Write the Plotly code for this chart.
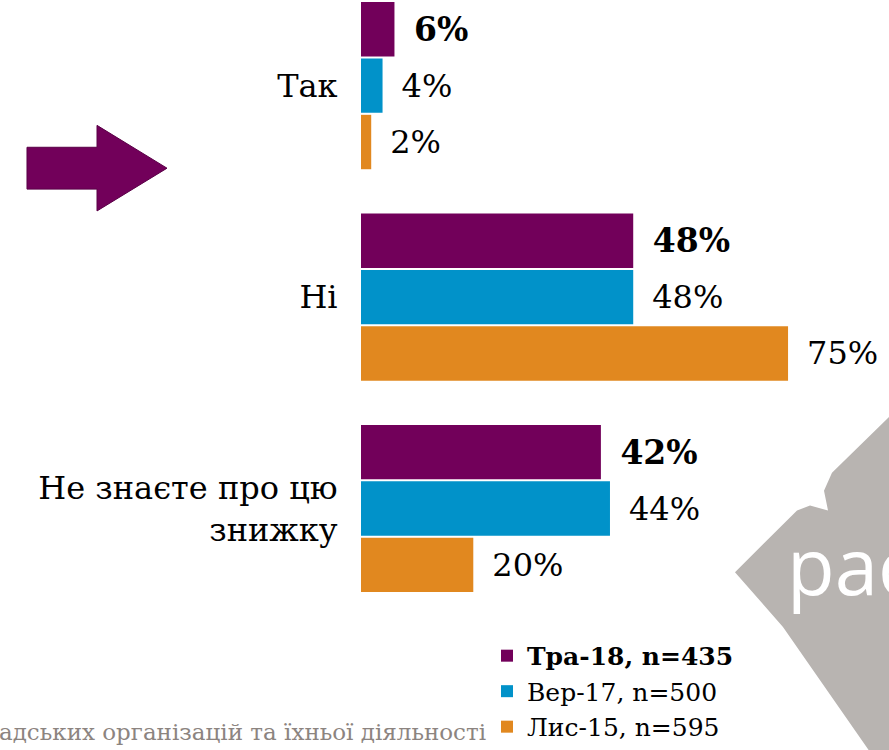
import plotly.graph_objects as go

# === data ===
categories = ["Так", "Ні", "Не знаєте про цю<br>знижку"]
series_names = ["<b>Тра-18, n=435</b>", "Вер-17, n=500", "Лис-15, n=595"]
vals_may18 = [5.9, 48.0, 42.3]
vals_sep17 = [3.8, 48.0, 43.9]
vals_nov15 = [1.8, 75.3, 19.8]
colors = ["#72005A", "#0192C9", "#E1881F"]
footer_text = "адських організацій та їхньої діяльності"
logo_text = "pac"

W, H = 889, 750
ML, MB = 361, 130
PW, PH = W - ML, H - MB
FONT = "DejaVu Serif"


def xp(px):
    return (px - ML) / PW


def yp(py):
    return 1 - py / PH


def path(points):
    s = "M" + " L".join(f"{xp(a):.4f},{yp(b):.4f}" for a, b in points)
    return s + " Z"


fig = go.Figure()

for i, (name, vals) in enumerate(zip(series_names, [vals_may18, vals_sep17, vals_nov15])):
    bold = i == 0
    fig.add_trace(go.Bar(
        y=categories,
        x=vals,
        orientation="h",
        name=name,
        legendgroup=f"g{i}",
        marker=dict(color=colors[i], line=dict(width=0)),
        texttemplate=("\u2002<b>%{x:.0f}%</b>" if bold else "\u2002%{x:.0f}%"),
        textposition="outside",
        textfont=dict(family=FONT, size=33 if bold else 32, color="black"),
        constraintext="none",
        cliponaxis=False,
        hoverinfo="skip",
    ))

# arrow on the left
arrow = [(27, 148), (97, 148), (97, 126), (167, 169), (97, 212), (97, 190), (27, 190)]
# grey logo watermark
logo = [(735, 575), (797, 513), (810, 508), (828, 513), (824, 493), (832, 475),
        (888, 420), (900, 410), (900, 760), (873, 760), (783, 630)]

fig.update_layout(
    width=W, height=H,
    margin=dict(l=ML, r=0, t=0, b=MB),
    paper_bgcolor="white", plot_bgcolor="white",
    barmode="group", bargap=0.2, bargroupgap=0.035,
    showlegend=True,
    legend=dict(
        x=xp(487), y=yp(636), xanchor="left", yanchor="top",
        font=dict(family=FONT, size=25, color="black"),
        bgcolor="rgba(0,0,0,0)", traceorder="normal", tracegroupgap=7,
    ),
    xaxis=dict(range=[0, 93.1], visible=False),
    yaxis=dict(
        categoryorder="array", categoryarray=categories,
        range=[2.513, -0.405],
        showgrid=False, zeroline=False, showline=False,
        ticks="outside", ticklen=16, tickcolor="rgba(0,0,0,0)",
        tickfont=dict(family=FONT, size=32, color="black"),
    ),
    shapes=[
        dict(type="path", path=path(logo), xref="paper", yref="paper",
             fillcolor="#B8B4B1", line=dict(width=0), layer="below"),
        dict(type="path", path=path(arrow), xref="paper", yref="paper",
             fillcolor="#72005A", line=dict(color="#5A0047", width=1)),
    ],
    annotations=[
        dict(text=logo_text, x=xp(785), y=yp(568), xref="paper", yref="paper",
             xanchor="left", yanchor="middle", showarrow=False,
             font=dict(family="Open Sans", size=78, color="white")),
        dict(text=footer_text, x=xp(488), y=yp(736), xref="paper", yref="paper",
             xanchor="right", yanchor="middle", showarrow=False,
             font=dict(family=FONT, size=23, color="#8C8480")),
    ],
)

fig.write_html(
    "out.html",
    config={"displayModeBar": False},
    post_script="document.body.style.margin='0';document.body.style.overflow='hidden';",
)
